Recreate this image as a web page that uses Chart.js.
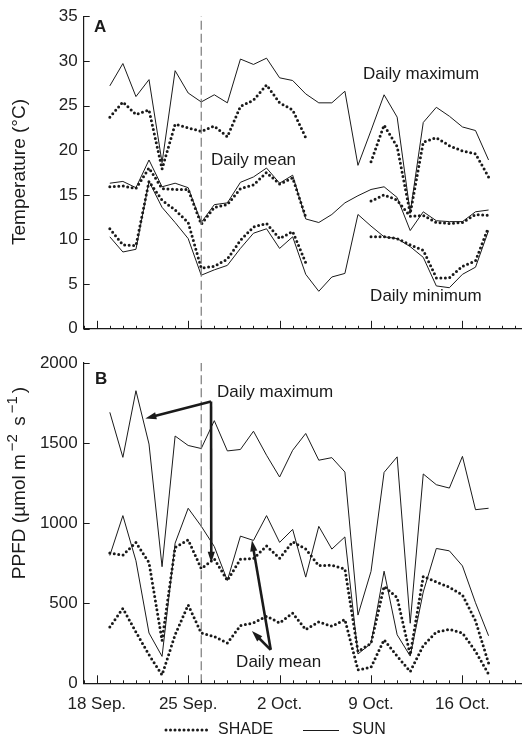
<!DOCTYPE html>
<html>
<head>
<meta charset="utf-8">
<script src="https://cdn.jsdelivr.net/npm/chart.js@4.4.1/dist/chart.umd.min.js"></script>
<style>
    html, body { margin: 0; padding: 0; background: #fff; }
    #wrap { position: relative; width: 522px; height: 738px; }
    .panel { position: absolute; left: 0; width: 522px; }
    #temp-box { top: 0; height: 345px; }
    #ppfd-box { top: 345px; height: 393px; }
</style>
</head>
<body>
<div id="wrap">
    <div class="panel" id="temp-box"><canvas id="temperature-chart"></canvas></div>
    <div class="panel" id="ppfd-box"><canvas id="ppfd-chart"></canvas></div>
</div>
<script>
// Days counted from 18 Sep. (1 = 19 Sep. ... 30 = 18 Oct.)
const days = [1, 2, 3, 4, 5, 6, 7, 8, 9, 10, 11, 12, 13, 14, 15,
              16, 17, 18, 19, 20, 21, 22, 23, 24, 25, 26, 27, 28, 29, 30];
const tickDays = [0, 7, 14, 21, 28];
const tickLabels = ['18 Sep.', '25 Sep.', '2 Oct.', '9 Oct.', '16 Oct.'];
const transferDay = 8;

// Panel A - temperature (°C)
const tempTicks = [0, 5, 10, 15, 20, 25, 30, 35];
const sunTempMax = [27.2, 29.7, 26.0, 27.9, 18.6, 28.9, 26.4, 25.4, 26.2, 25.3, 30.2, 29.6, 30.3, 28.1, 27.8,
                    26.3, 25.3, 25.3, 26.6, 18.3, 22.2, 26.2, 23.7, 13.0, 23.1, 24.8, 23.8, 22.6, 22.2, 18.9];
const shadeTempMax = [23.7, 25.4, 24.0, 24.5, 17.9, 22.9, 22.5, 22.1, 22.7, 21.5, 24.9, 25.6, 27.3, 25.3, 24.5,
                      21.4, null, null, null, null, 18.7, 22.8, 20.4, 12.9, 20.9, 21.4, 20.5, 19.9, 19.6, 17.0];
const sunTempMean = [16.3, 16.5, 15.8, 18.9, 15.9, 16.3, 15.8, 11.9, 13.9, 14.1, 16.4, 17.0, 18.0, 16.3, 17.2,
                     12.3, 11.9, 12.8, 14.1, 14.9, 15.6, 15.9, 14.7, 11.0, 13.1, 12.1, 12.0, 12.0, 13.1, 13.3];
const shadeTempMean = [15.9, 16.0, 15.7, 18.0, 15.7, 15.6, 15.6, 11.7, 13.6, 13.9, 15.7, 16.1, 17.5, 16.2, 16.9,
                       12.5, null, null, null, null, 14.3, 15.0, 14.4, 12.6, 12.7, 11.9, 11.8, 11.9, 12.8, 12.7];
const sunTempMin = [10.3, 8.6, 8.9, 16.5, 13.6, 11.9, 10.1, 6.0, 6.6, 7.1, 9.0, 10.7, 11.2, 9.0, 10.3,
                    6.1, 4.2, 5.8, 6.2, 12.8, 11.5, 10.3, 10.1, 9.2, 8.0, 4.8, 4.6, 6.1, 6.9, 11.0];
const shadeTempMin = [11.2, 9.4, 9.3, 16.5, 14.4, 13.3, 11.9, 6.8, 7.0, 7.8, 9.9, 11.4, 11.8, 10.1, 10.9,
                      7.4, null, null, null, null, 10.3, 10.3, 10.1, 9.4, 8.8, 5.7, 5.7, 7.0, 7.6, 11.4];

// Panel B - PPFD (µmol m-2 s-1)
const ppfdTicks = [0, 500, 1000, 1500, 2000];
const sunPpfdMax = [1692, 1411, 1827, 1494, 728, 1544, 1485, 1466, 1640, 1451, 1460, 1574, 1424, 1288, 1455,
                    1560, 1393, 1409, 1319, 426, 699, 1317, 1414, 375, 1307, 1240, 1219, 1417, 1084, 1093];
const shadePpfdMax = [813, 800, 880, 754, 267, 848, 896, 716, 777, 642, 775, 778, 858, 780, 884,
                      838, 735, 737, 714, 199, 250, 605, 535, 178, 668, 633, 600, 552, 390, 126];
const sunPpfdMean = [798, 1047, 765, 314, 168, 875, 1093, 981, 854, 642, 919, 892, 1047, 880, 961,
                     663, 980, 838, 914, 183, 249, 700, 303, 170, 570, 842, 827, 733, 503, 297];
const shadePpfdMean = [351, 468, 320, 178, 52, 303, 489, 314, 292, 251, 361, 377, 419, 377, 438,
                       335, 384, 356, 398, 84, 100, 272, 170, 73, 235, 320, 337, 314, 200, 57];

const INK = '#1a1a1a';
const FONT = '"Liberation Sans", Arial, sans-serif';
Chart.defaults.font.family = FONT;
Chart.defaults.font.size = 17;
Chart.defaults.color = '#222';

// Build one SUN (solid) or SHADE (dotted) line
function lineSet(label, values, shade) {
    return {
        label: label,
        data: values.map((v, i) => ({ x: days[i], y: v })),
        borderColor: INK,
        borderWidth: shade ? 3 : 1,
        borderDash: shade ? [0, 4.5] : [],
        borderCapStyle: shade ? 'round' : 'butt',
        pointRadius: 0,
        tension: 0,
        spanGaps: false,
        fill: false
    };
}

// Grey dashed line marking the transfer day
function transferLine(top) {
    return {
        label: 'transfer',
        data: [{ x: transferDay, y: 0 }, { x: transferDay, y: top }],
        borderColor: '#7a7a7a',
        borderWidth: 1.2,
        borderDash: [9, 4],
        pointRadius: 0,
        fill: false
    };
}

function drawArrow(ctx, x0, y0, x1, y1) {
    const ang = Math.atan2(y1 - y0, x1 - x0);
    const len = 11, half = 3.6;
    const c = Math.cos(ang), s = Math.sin(ang);
    ctx.beginPath();
    ctx.moveTo(x0, y0);
    ctx.lineTo(x1 - c * len * 0.7, y1 - s * len * 0.7);
    ctx.stroke();
    ctx.beginPath();
    ctx.moveTo(x1, y1);
    ctx.lineTo(x1 - c * len + s * half, y1 - s * len - c * half);
    ctx.lineTo(x1 - c * len - s * half, y1 - s * len + c * half);
    ctx.closePath();
    ctx.fill();
}

// Inward ticks, panel letter, labels, arrows, axis title and legend
const decorPlugin = {
    id: 'decor',
    afterDatasetsDraw(chart, args, opts) {
        const { ctx, chartArea: area, scales: { x, y } } = chart;
        ctx.save();
        ctx.strokeStyle = INK;
        ctx.fillStyle = INK;
        ctx.lineWidth = 1;

        // x ticks: one per day, longer at the labelled weeks
        for (let d = Math.ceil(x.min); d <= x.max; d++) {
            const px = Math.round(x.getPixelForValue(d)) + 0.5;
            const len = tickDays.includes(d) ? 8 : 3;
            ctx.beginPath();
            ctx.moveTo(px, area.bottom);
            ctx.lineTo(px, area.bottom - len);
            ctx.stroke();
        }
        // y ticks
        y.ticks.forEach(t => {
            const py = Math.round(y.getPixelForValue(t.value)) + 0.5;
            ctx.beginPath();
            ctx.moveTo(area.left, py);
            ctx.lineTo(area.left + 6, py);
            ctx.stroke();
        });

        // panel letter
        ctx.font = 'bold 17px ' + FONT;
        ctx.textAlign = 'left';
        ctx.textBaseline = 'middle';
        ctx.fillText(opts.letter, opts.letterAt[0], opts.letterAt[1]);

        // text notes placed in data units
        ctx.font = '17px ' + FONT;
        opts.notes.forEach(n => {
            ctx.fillText(n.text, x.getPixelForValue(n.at[0]), y.getPixelForValue(n.at[1]));
        });

        // arrows
        ctx.lineWidth = 2.6;
        (opts.arrows || []).forEach(a => {
            drawArrow(ctx,
                x.getPixelForValue(a.from[0]), y.getPixelForValue(a.from[1]),
                x.getPixelForValue(a.to[0]), y.getPixelForValue(a.to[1]));
        });

        // rotated y title, built from plain and superscript parts
        ctx.save();
        ctx.translate(opts.titleAt[0], opts.titleAt[1]);
        ctx.rotate(-Math.PI / 2);
        ctx.textBaseline = 'middle';
        const parts = opts.title;
        const gap = 3;
        let total = 0;
        parts.forEach(p => {
            ctx.font = (p.sup ? '15px ' : '19px ') + FONT;
            total += ctx.measureText(p.text).width + (p.sup ? 2 * gap : 0);
        });
        let cx = -total / 2;
        parts.forEach(p => {
            ctx.font = (p.sup ? '15px ' : '19px ') + FONT;
            if (p.sup) cx += gap;
            ctx.fillText(p.text, cx, p.sup ? -7 : 0);
            cx += ctx.measureText(p.text).width + (p.sup ? gap : 0);
        });
        ctx.restore();

        // legend below panel B
        if (opts.legend) {
            const ly = opts.legend.y;
            ctx.lineWidth = 3;
            ctx.lineCap = 'round';
            ctx.setLineDash([0, 4.5]);
            ctx.beginPath();
            ctx.moveTo(opts.legend.shade[0], ly);
            ctx.lineTo(opts.legend.shade[1], ly);
            ctx.stroke();
            ctx.setLineDash([]);
            ctx.lineCap = 'butt';
            ctx.lineWidth = 1;
            ctx.beginPath();
            ctx.moveTo(opts.legend.sun[0], ly + 0.5);
            ctx.lineTo(opts.legend.sun[1], ly + 0.5);
            ctx.stroke();
            ctx.font = '16px ' + FONT;
            ctx.fillText('SHADE', opts.legend.shade[1] + 11, ly);
            ctx.fillText('SUN', opts.legend.sun[1] + 13, ly);
        }
        ctx.restore();
    }
};

// Shared axis settings; the plot is sized so the chart area sits where the figure has it
function buildOptions(yMin, yMax, yTickValues, showDates, xHeight, topPad, decor) {
    return {
        responsive: true,
        maintainAspectRatio: false,
        animation: false,
        layout: { padding: { top: topPad, left: 0, right: 0, bottom: 0 } },
        plugins: {
            legend: { display: false },
            tooltip: { enabled: false },
            decor: decor
        },
        scales: {
            x: {
                type: 'linear',
                min: -1,
                max: 32.56,
                afterBuildTicks: scale => { scale.ticks = tickDays.map(v => ({ value: v })); },
                afterFit: scale => { scale.height = xHeight; },
                ticks: {
                    display: showDates,
                    padding: 11,
                    color: '#222',
                    callback: value => tickLabels[tickDays.indexOf(value)]
                },
                grid: { display: false, drawTicks: false },
                border: { display: true, color: INK, width: 1.2 }
            },
            y: {
                min: yMin,
                max: yMax,
                afterBuildTicks: scale => { scale.ticks = yTickValues.map(v => ({ value: v })); },
                afterFit: scale => { scale.width = 83.7; },
                ticks: { padding: 6, color: '#222', callback: value => String(value) },
                grid: { display: false, drawTicks: false },
                border: { display: true, color: INK, width: 1.2 }
            }
        }
    };
}

function createTemperatureChart() {
    const ctx = document.getElementById('temperature-chart').getContext('2d');
    return new Chart(ctx, {
        type: 'line',
        data: {
            datasets: [
                transferLine(35),
                lineSet('SUN max', sunTempMax, false),
                lineSet('SHADE max', shadeTempMax, true),
                lineSet('SUN mean', sunTempMean, false),
                lineSet('SHADE mean', shadeTempMean, true),
                lineSet('SUN min', sunTempMin, false),
                lineSet('SHADE min', shadeTempMin, true)
            ]
        },
        options: buildOptions(0, 35, tempTicks, false, 14.3, 11, {
            letter: 'A',
            letterAt: [94, 27],
            notes: [
                { text: 'Daily maximum', at: [20.39, 28.5] },
                { text: 'Daily mean', at: [8.75, 18.9] },
                { text: 'Daily minimum', at: [20.93, 3.6] }
            ],
            title: [{ text: 'Temperature (°C)' }],
            titleAt: [20, 172]
        }),
        plugins: [decorPlugin]
    });
}

function createPpfdChart() {
    const ctx = document.getElementById('ppfd-chart').getContext('2d');
    return new Chart(ctx, {
        type: 'line',
        data: {
            datasets: [
                transferLine(2000),
                lineSet('SUN max', sunPpfdMax, false),
                lineSet('SHADE max', shadePpfdMax, true),
                lineSet('SUN mean', sunPpfdMean, false),
                lineSet('SHADE mean', shadePpfdMean, true)
            ]
        },
        options: buildOptions(0, 2000, ppfdTicks, true, 54.7, 18, {
            letter: 'B',
            letterAt: [95, 34],
            notes: [
                { text: 'Daily maximum', at: [9.21, 1817] },
                { text: 'Daily mean', at: [10.67, 128] }
            ],
            arrows: [
                { from: [8.75, 1759], to: [3.72, 1654] },
                { from: [8.75, 1759], to: [8.77, 752] },
                { from: [13.32, 209], to: [11.88, 326] },
                { from: [13.32, 209], to: [11.88, 893] }
            ],
            title: [
                { text: 'PPFD (µmol m' }, { text: '−2', sup: true },
                { text: ' s' }, { text: '−1', sup: true }, { text: ')' }
            ],
            titleAt: [20, 138],
            legend: { y: 385, shade: [166, 207], sun: [303, 339] }
        }),
        plugins: [decorPlugin]
    });
}

createTemperatureChart();
createPpfdChart();
</script>
</body>
</html>
